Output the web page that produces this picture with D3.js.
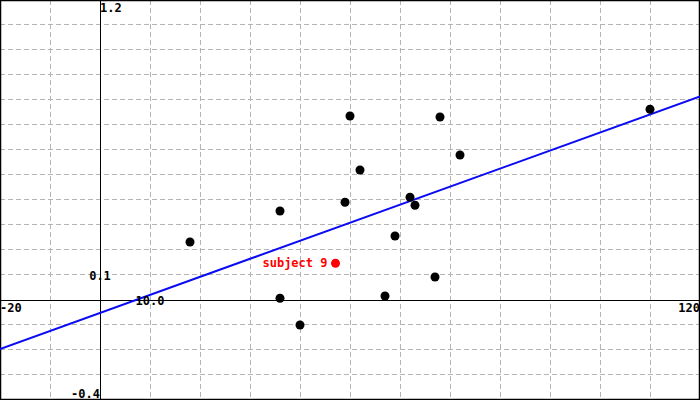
<!DOCTYPE html>
<html><head><meta charset="utf-8">
<script src="https://cdn.jsdelivr.net/npm/d3@7"></script>
<style>
html,body{margin:0;padding:0;background:#fff;}
svg{display:block;}
text{font-family:"DejaVu Sans Mono",monospace;font-weight:bold;font-size:12px;}
</style></head>
<body>
<svg id="c" width="700" height="400"></svg>
<script>
// data
const pointX = [18, 36, 36, 40, 49, 50, 52, 57, 59, 62, 63, 67, 68, 72, 110];
const pointY = [0.232, 0.356, 0.007, -0.1, 0.391, 0.736, 0.52, 0.016, 0.256, 0.411, 0.379, 0.092, 0.732, 0.58, 0.763];
const highlightX = [47.1];
const highlightY = [0.147];
const highlightLabel = ["subject 9"];
const fitX = [-20, 120];
const fitY = [-0.196, 0.814];
const xTicks = [-20, 10, 120];
const xTickLabels = ["-20", "10.0", "120"];
const yTicks = [1.2, 0.1, -0.4];
const yTickLabels = ["1.2", "0.1", "-0.4"];

const W = 700, H = 400;
const svg = d3.select("#c");
const x = d3.scaleLinear().domain([-20, 120]).range([0, W]);
const y = d3.scaleLinear().domain([-0.4, 1.2]).range([H, 0]);

svg.append("rect").attr("width", W).attr("height", H).attr("fill", "#fff");

// grid
const gx = d3.range(-10, 120, 10).filter(v => v !== 0);
const gy = d3.range(-3, 12, 1).map(v => v / 10).filter(v => v !== 0);
const grid = svg.append("g").attr("stroke", "#b4b4b4").attr("stroke-width", 1)
  .attr("stroke-dasharray", "5,3").attr("shape-rendering", "crispEdges");
grid.selectAll("line.v").data(gx).join("line").attr("class", "v")
  .attr("x1", d => Math.round(x(d)) + 0.5).attr("x2", d => Math.round(x(d)) + 0.5)
  .attr("y1", 0).attr("y2", H);
grid.selectAll("line.h").data(gy).join("line").attr("class", "h")
  .attr("y1", d => Math.round(y(d)) - 0.5).attr("y2", d => Math.round(y(d)) - 0.5)
  .attr("x1", 0).attr("x2", W);

// axes
const ax = svg.append("g").attr("stroke", "#000").attr("stroke-width", 1.5).attr("shape-rendering", "crispEdges");
ax.append("line").attr("x1", 0).attr("x2", W).attr("y1", y(0) + 0.5).attr("y2", y(0) + 0.5);
ax.append("line").attr("x1", x(0) + 0.5).attr("x2", x(0) + 0.5).attr("y1", 0).attr("y2", H);

// border
svg.append("rect").attr("x", 0.5).attr("y", 0.5).attr("width", W - 1).attr("height", H - 1)
  .attr("fill", "none").attr("stroke", "#000").attr("stroke-width", 1.5);

// fit line
const line = d3.line().x(d => x(d[0])).y(d => y(d[1]));
svg.append("path").datum(d3.zip(fitX, fitY)).attr("d", line)
  .attr("fill", "none").attr("stroke", "#0a0af5").attr("stroke-width", 2);

// points
svg.append("g").selectAll("circle").data(d3.zip(pointX, pointY)).join("circle")
  .attr("cx", d => x(d[0])).attr("cy", d => y(d[1])).attr("r", 4.5).attr("fill", "#000");

// highlight
const hl = svg.append("g").selectAll("g").data(d3.zip(highlightX, highlightY, highlightLabel)).join("g");
hl.append("circle").attr("cx", d => x(d[0])).attr("cy", d => y(d[1])).attr("r", 4.5).attr("fill", "#f00");
hl.append("text").attr("x", d => x(d[0]) - 8).attr("y", d => y(d[1]) + 4)
  .attr("text-anchor", "end").attr("fill", "#f00").text(d => d[2]);

// tick labels
const lab = svg.append("g").attr("fill", "#000");
lab.append("text").attr("x", x(xTicks[0])).attr("y", y(0) + 12).attr("text-anchor", "start").text(xTickLabels[0]);
lab.append("text").attr("x", x(xTicks[1])).attr("y", y(0) + 5).attr("text-anchor", "middle").text(xTickLabels[1]);
lab.append("text").attr("x", x(xTicks[2])).attr("y", y(0) + 12).attr("text-anchor", "end").text(xTickLabels[2]);
lab.append("text").attr("x", x(0)).attr("y", y(yTicks[0]) + 12).attr("text-anchor", "start").text(yTickLabels[0]);
lab.append("text").attr("x", x(0)).attr("y", y(yTicks[1]) + 5).attr("text-anchor", "middle").text(yTickLabels[1]);
lab.append("text").attr("x", x(0)).attr("y", y(yTicks[2]) - 2).attr("text-anchor", "end").text(yTickLabels[2]);
</script>
</body></html>
